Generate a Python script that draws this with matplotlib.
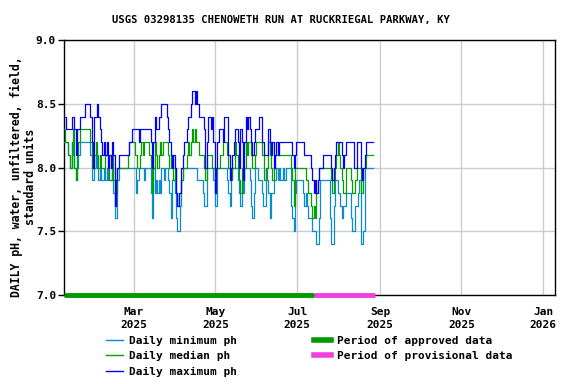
import numpy as np
import pandas as pd
import matplotlib
matplotlib.use("Agg")
import matplotlib.pyplot as plt
import matplotlib.dates as mdates
from matplotlib.lines import Line2D

# daily pH values, one per day starting 2025-01-08
start_day = "2025-01-08"

max_ph = [
    8.4, 8.4, 8.3, 8.3, 8.3, 8.3, 8.4, 8.4, 8.3, 8.1,
    8.3, 8.3, 8.4, 8.4, 8.4, 8.4, 8.5, 8.5, 8.5, 8.5,
    8.4, 8.2, 8.0, 8.4, 8.4, 8.5, 8.4, 8.3, 8.2, 8.1,
    8.2, 8.1, 8.2, 8.0, 8.1, 8.0, 8.2, 8.1, 7.7, 7.9,
    8.0, 8.1, 8.1, 8.1, 8.1, 8.1, 8.1, 8.1, 8.1, 8.2,
    8.2, 8.3, 8.3, 8.3, 8.3, 8.3, 8.2, 8.3, 8.3, 8.3,
    8.3, 8.3, 8.3, 8.3, 8.3, 8.2, 8.0, 8.2, 8.4, 8.3,
    8.3, 8.4, 8.4, 8.5, 8.5, 8.5, 8.5, 8.4, 8.3, 8.2,
    8.1, 8.0, 8.1, 8.0, 7.8, 7.7, 7.8, 7.8, 8.0, 8.1,
    8.2, 8.2, 8.3, 8.4, 8.4, 8.5, 8.6, 8.6, 8.5, 8.6,
    8.5, 8.4, 8.4, 8.4, 8.4, 8.3, 8.0, 8.2, 8.4, 8.4,
    8.3, 8.4, 8.2, 7.8, 8.0, 8.2, 8.3, 8.3, 8.3, 8.2,
    8.4, 8.4, 8.4, 8.1, 7.9, 8.0, 8.1, 8.2, 8.3, 8.3,
    8.2, 8.0, 8.3, 8.2, 7.9, 8.2, 8.4, 8.3, 8.4, 8.3,
    8.2, 8.1, 8.2, 8.3, 8.3, 8.3, 8.4, 8.4, 8.2, 8.2,
    8.1, 8.1, 8.1, 8.3, 8.2, 8.1, 8.2, 8.0, 8.1, 8.2,
    8.1, 8.2, 8.2, 8.2, 8.2, 8.2, 8.2, 8.2, 8.2, 8.2,
    8.2, 8.1, 8.0, 8.1, 8.2, 8.2, 8.2, 8.2, 8.2, 8.2,
    8.1, 8.1, 8.1, 8.1, 8.1, 8.0, 7.9, 7.8, 7.9, 7.8,
    7.9, 8.0, 8.0, 8.0, 8.1, 8.1, 8.1, 8.1, 8.1, 8.1,
    8.0, 7.9, 8.0, 8.1, 8.2, 8.2, 8.2, 8.2, 8.1, 8.0,
    8.1, 8.2, 8.2, 8.2, 8.2, 8.2, 8.2, 8.0, 8.0, 8.2,
    8.2, 8.2, 8.0, 7.9, 8.0, 8.1, 8.2, 8.2, 8.2, 8.2,
    8.2, 8.2,
]

median_ph = [
    8.3, 8.2, 8.2, 8.1, 8.1, 8.0, 8.2, 8.3, 8.0, 7.9,
    8.1, 8.2, 8.3, 8.3, 8.3, 8.3, 8.3, 8.3, 8.3, 8.3,
    8.2, 8.0, 8.0, 8.1, 8.2, 8.1, 8.0, 8.1, 8.0, 8.0,
    8.0, 8.1, 8.1, 8.0, 7.9, 7.9, 8.1, 7.9, 7.7, 7.8,
    8.0, 8.0, 8.0, 8.0, 8.0, 8.0, 8.0, 8.0, 8.1, 8.2,
    8.2, 8.2, 8.2, 8.1, 8.1, 8.0, 8.0, 8.1, 8.2, 8.1,
    8.2, 8.2, 8.2, 8.2, 8.1, 8.0, 7.8, 8.0, 8.2, 8.1,
    8.0, 8.1, 8.2, 8.1, 8.2, 8.2, 8.2, 8.2, 8.1, 8.0,
    8.1, 8.0, 7.9, 8.0, 7.8, 7.7, 7.8, 7.8, 7.9, 8.0,
    8.0, 8.0, 8.1, 8.2, 8.1, 8.2, 8.3, 8.2, 8.3, 8.2,
    8.2, 8.1, 8.1, 8.1, 8.1, 8.0, 7.9, 8.1, 8.1, 8.1,
    8.1, 8.0, 8.0, 7.8, 8.0, 8.0, 8.0, 8.1, 8.1, 8.2,
    8.2, 8.2, 8.1, 8.0, 7.9, 7.9, 8.0, 8.0, 8.2, 8.1,
    8.0, 7.9, 7.8, 8.0, 7.9, 8.0, 8.2, 8.1, 8.2, 8.2,
    8.1, 8.0, 8.0, 8.1, 8.2, 8.2, 8.2, 8.2, 8.1, 8.1,
    7.9, 8.0, 8.0, 8.2, 8.1, 8.0, 7.9, 8.0, 8.1, 8.1,
    8.1, 8.1, 8.1, 8.1, 8.1, 8.1, 8.1, 8.1, 8.1, 8.1,
    8.0, 7.9, 7.7, 8.0, 8.0, 8.0, 8.0, 8.0, 8.0, 8.0,
    8.0, 7.9, 7.9, 7.8, 7.8, 7.7, 7.6, 7.7, 7.6, 7.8,
    7.9, 8.0, 8.0, 8.0, 8.0, 8.0, 8.0, 8.0, 8.0, 8.0,
    7.9, 7.8, 7.9, 8.0, 8.1, 8.2, 8.1, 8.0, 7.9, 7.8,
    7.8, 8.0, 8.0, 8.0, 8.0, 7.9, 7.8, 7.8, 7.9, 8.0,
    8.0, 8.0, 7.8, 7.8, 8.0, 8.0, 8.1, 8.1, 8.1, 8.1,
    8.1, 8.1,
]

min_ph = [
    8.2, 8.2, 8.2, 8.1, 8.1, 8.0, 8.2, 8.1, 8.0, 7.9,
    8.0, 8.1, 8.2, 8.2, 8.2, 8.2, 8.2, 8.2, 8.2, 8.2,
    8.1, 7.9, 7.9, 8.0, 8.1, 8.0, 7.9, 8.0, 7.9, 7.9,
    8.0, 7.9, 8.0, 7.9, 7.9, 7.9, 8.0, 7.8, 7.6, 7.6,
    7.9, 8.0, 8.0, 8.0, 8.0, 8.0, 8.0, 8.0, 8.0, 8.0,
    8.0, 8.0, 8.0, 8.0, 7.8, 7.9, 8.0, 8.0, 8.0, 8.0,
    7.9, 8.0, 8.0, 8.0, 8.0, 7.8, 7.6, 8.0, 7.8, 7.9,
    7.8, 7.9, 7.8, 8.0, 8.0, 7.9, 8.0, 8.0, 7.9, 7.8,
    7.6, 7.9, 7.9, 7.8, 7.6, 7.5, 7.5, 7.7, 7.9, 8.0,
    8.0, 8.0, 8.0, 8.0, 8.0, 8.0, 8.0, 8.0, 8.0, 8.0,
    7.9, 7.9, 7.9, 7.9, 7.8, 7.7, 7.7, 8.0, 8.0, 8.0,
    8.0, 8.0, 7.9, 7.7, 7.7, 8.0, 8.0, 8.0, 8.0, 8.0,
    8.0, 8.0, 7.9, 7.8, 7.7, 7.9, 8.0, 8.0, 8.0, 8.0,
    7.9, 7.8, 7.7, 7.9, 7.8, 8.0, 8.0, 8.0, 8.0, 7.9,
    7.7, 7.6, 7.8, 8.0, 8.0, 7.9, 7.9, 7.9, 7.8, 7.7,
    7.7, 8.0, 7.9, 7.8, 7.6, 7.8, 7.8, 7.9, 7.9, 8.0,
    7.9, 8.0, 7.9, 7.9, 8.0, 7.9, 8.0, 8.0, 8.0, 8.0,
    7.7, 7.6, 7.5, 7.8, 7.9, 7.9, 7.9, 7.9, 7.9, 7.8,
    7.7, 7.8, 7.7, 7.6, 7.6, 7.6, 7.5, 7.5, 7.5, 7.4,
    7.4, 7.6, 7.9, 7.9, 7.9, 7.9, 7.9, 7.9, 7.9, 7.6,
    7.4, 7.4, 7.7, 7.9, 7.9, 7.8, 7.8, 7.7, 7.6, 7.7,
    7.7, 7.8, 7.8, 7.8, 7.8, 7.6, 7.5, 7.5, 7.7, 7.7,
    7.8, 7.9, 7.4, 7.4, 7.5, 8.0, 8.0, 8.0, 8.0, 8.0,
    8.0, 8.0,
]

approved_period = ("2025-01-08", "2025-07-14")
provisional_period = ("2025-07-14", "2025-08-28")
x_range = ("2025-01-08", "2026-01-10")

title = "USGS 03298135 CHENOWETH RUN AT RUCKRIEGAL PARKWAY, KY"
ylabel = "DAILY pH, water, unfiltered, field,\nstandard units"

dates = pd.date_range(start_day, periods=len(max_ph), freq="D")

plt.rcParams["font.family"] = "DejaVu Sans Mono"
plt.rcParams["font.weight"] = "bold"
plt.rcParams["font.size"] = 8

fig = plt.figure(figsize=(5.76, 3.84), dpi=100)
ax = fig.add_axes([0.1118, 0.2318, 0.8518, 0.664])

c_min = "#0a8ad0"
c_med = "#00a000"
c_max = "#0000ff"
c_appr = "#009900"
c_prov = "#f040e0"

ax.plot(dates, min_ph, color=c_min, lw=0.9, drawstyle="steps-mid", zorder=3)
ax.plot(dates, median_ph, color=c_med, lw=0.9, drawstyle="steps-mid", zorder=4)
ax.plot(dates, max_ph, color=c_max, lw=0.9, drawstyle="steps-mid", zorder=5)

ax.plot(pd.to_datetime(list(approved_period)), [7.0, 7.0], color=c_appr,
        lw=3.5, solid_capstyle="butt", clip_on=False, zorder=6)
ax.plot(pd.to_datetime(list(provisional_period)), [7.0, 7.0], color=c_prov,
        lw=3.5, solid_capstyle="butt", clip_on=False, zorder=6)

ax.set_xlim(pd.Timestamp(x_range[0]), pd.Timestamp(x_range[1]))
ax.set_ylim(7.0, 9.0)
ax.set_yticks([7.0, 7.5, 8.0, 8.5, 9.0])
ax.yaxis.set_major_formatter(plt.FormatStrFormatter("%.1f"))

ax.xaxis.set_major_locator(mdates.MonthLocator(bymonth=[1, 3, 5, 7, 9, 11]))
ax.xaxis.set_major_formatter(mdates.DateFormatter("%b\n%Y"))
ax.tick_params(axis="x", length=0, pad=9)
ax.tick_params(axis="y", length=4, width=1, pad=2)
for lbl in ax.get_xticklabels():
    lbl.set_linespacing(1.35)

ax.grid(True, color="#cccccc", lw=1)
ax.set_axisbelow(True)
for s in ax.spines.values():
    s.set_linewidth(1)
    s.set_color("black")

fig.text(0.488, 0.948, title, ha="center", va="center", fontsize=7.6)
fig.text(0.041, 0.54, ylabel, rotation=90, ha="center", va="center",
         multialignment="center", linespacing=1.1, fontsize=8.3)

handles = [
    Line2D([], [], color=c_min, lw=1),
    Line2D([], [], color=c_med, lw=1),
    Line2D([], [], color=c_max, lw=1),
    Line2D([], [], color=c_appr, lw=4),
    Line2D([], [], color=c_prov, lw=4),
]
labels = ["Daily minimum ph", "Daily median ph", "Daily maximum ph",
          "Period of approved data", "Period of provisional data"]
fig.legend(handles, labels, ncol=2, loc="upper center",
           bbox_to_anchor=(0.537, 0.126), frameon=False,
           handlelength=1.5, handletextpad=0.55, columnspacing=7,
           labelspacing=0.5, borderaxespad=0, borderpad=0)

fig.savefig("out.png", dpi=100)
